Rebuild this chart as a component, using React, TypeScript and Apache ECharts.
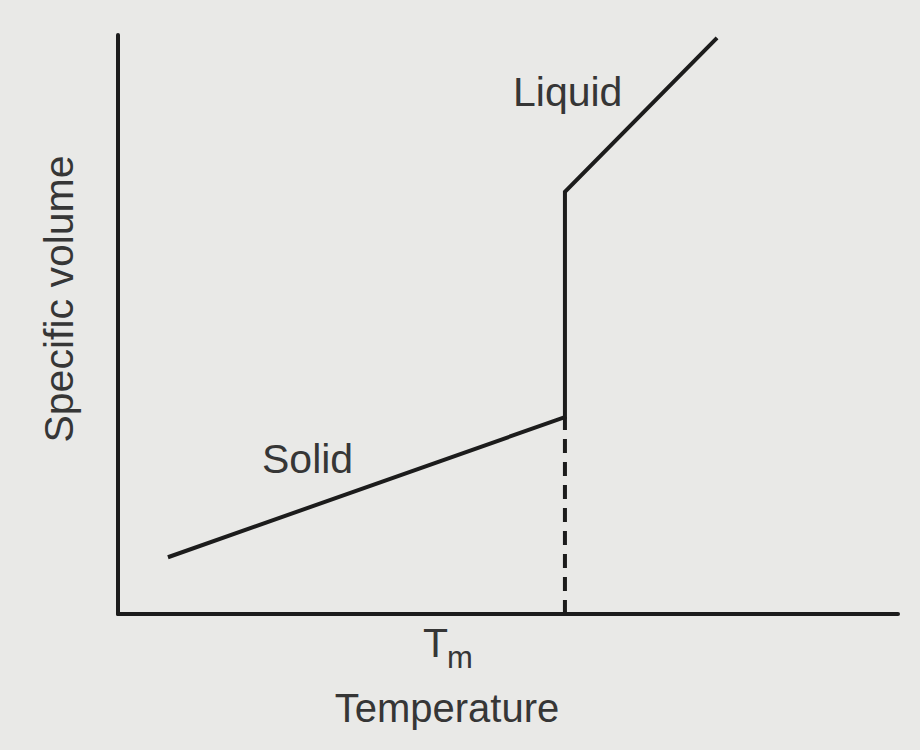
import React, { useEffect, useRef } from "react";
import * as echarts from "echarts";

// Temperature (x) and specific volume (y), arbitrary units 0..100
const curveTemperature = [6.4, 57.3, 57.3, 76.8];
const curveVolume = [9.8, 34.0, 72.9, 99.5];
const meltingTemperature = 57.3;
const dashedVolume = [0, 34.0];

const xAxisName = "Temperature";
const yAxisName = "Specific volume";
const solidLabel = "Solid";
const liquidLabel = "Liquid";

const INK = "#1c1c1c";
const TEXT = "#363636";
const FONT = "'Liberation Sans', Arial, Helvetica, sans-serif";

export default function App() {
  const ref = useRef<HTMLDivElement>(null);
  useEffect(() => {
    if (!ref.current) return;
    const chart = echarts.init(ref.current, undefined, { renderer: "svg" });
    const curve = curveTemperature.map((t, i) => [t, curveVolume[i]]);
    const dashed = dashedVolume.map((v) => [meltingTemperature, v]);
    const textStyle = (fs: number) => ({
      fontFamily: FONT,
      fontSize: fs,
      fill: TEXT,
      fontWeight: "normal",
    });
    chart.setOption({
      animation: false,
      backgroundColor: "#e9e9e7",
      grid: { left: 118, right: 22, top: 35, bottom: 136 },
      xAxis: {
        type: "value",
        min: 0,
        max: 100,
        axisLine: { show: true, lineStyle: { color: INK, width: 4 } },
        axisTick: { show: false },
        axisLabel: { show: false },
        splitLine: { show: false },
      },
      yAxis: {
        type: "value",
        min: 0,
        max: 100,
        axisLine: { show: true, lineStyle: { color: INK, width: 4 } },
        axisTick: { show: false },
        axisLabel: { show: false },
        splitLine: { show: false },
      },
      series: [
        {
          type: "line",
          data: curve,
          symbol: "none",
          lineStyle: { color: INK, width: 4, join: "miter" },
        },
        {
          type: "line",
          data: dashed,
          symbol: "none",
          lineStyle: { color: INK, width: 4, type: [14, 9] },
        },
      ],
      graphic: [
        {
          type: "text",
          x: 513,
          y: 92,
          style: { ...textStyle(41), text: liquidLabel, align: "left", verticalAlign: "middle" },
        },
        {
          type: "text",
          x: 262,
          y: 459,
          style: { ...textStyle(41), text: solidLabel, align: "left", verticalAlign: "middle" },
        },
        {
          type: "text",
          x: 423,
          y: 643,
          style: { ...textStyle(41), text: "T", align: "left", verticalAlign: "middle" },
        },
        {
          type: "text",
          x: 447,
          y: 657,
          style: { ...textStyle(31), text: "m", align: "left", verticalAlign: "middle" },
        },
        {
          type: "text",
          x: 447,
          y: 708,
          style: { ...textStyle(40), text: xAxisName, align: "center", verticalAlign: "middle" },
        },
        {
          type: "text",
          x: 59,
          y: 299,
          rotation: Math.PI / 2,
          style: { ...textStyle(41), text: yAxisName, align: "center", verticalAlign: "middle" },
        },
      ],
    });
    return () => chart.dispose();
  }, []);
  return (
    <div
      ref={ref}
      style={{ position: "fixed", left: 0, top: 0, width: 920, height: 750 }}
    />
  );
}
